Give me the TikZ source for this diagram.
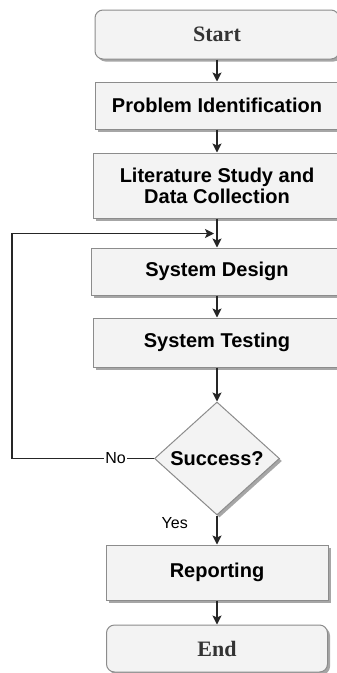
\documentclass[tikz,border=0pt]{standalone}
\usepackage{fontspec}
\setmainfont{Liberation Serif}
\setsansfont{Liberation Sans}
\usepackage{tikz}
\usetikzlibrary{shapes.geometric, arrows.meta, positioning, shadows}
\definecolor{boxline}{HTML}{8C8C8C}
\definecolor{boxfill}{HTML}{F3F3F3}
\definecolor{termtext}{HTML}{333333}

\tikzset{
	flowbox/.style={draw=boxline, fill=boxfill, line width=1pt,
		minimum height=47pt, align=center, inner sep=0pt,
		font=\sffamily\bfseries\fontsize{20}{21}\selectfont,
		drop shadow={shadow xshift=2.5pt, shadow yshift=-2.5pt, fill=black!35, opacity=1}},
	termbox/.style={flowbox, rounded corners=8pt, text=termtext,
		font=\rmfamily\bfseries\fontsize{22}{24}\selectfont},
	decide/.style={flowbox, diamond, aspect=1.1},
	flowarrow/.style={draw=black!85, line width=1.3pt,
		-{Stealth[length=9pt, width=9pt, inset=2pt]}},
	flowlabel/.style={font=\sffamily\fontsize{16}{18}\selectfont, inner sep=0pt}
}

\begin{document}
\begin{tikzpicture}
	\useasboundingbox (0,0) rectangle (337pt,-673pt);

	\node[termbox, minimum width=244pt, minimum height=49pt] (start) at (217pt,-34.5pt) {Start};
	\node[flowbox, minimum width=244pt, below=22pt of start] (ident) {Problem Identification};
	\node[flowbox, minimum width=248pt, minimum height=65pt, below=23pt of ident] (study)
		{Literature Study and\\Data Collection};
	\node[flowbox, minimum width=252pt, below=29pt of study] (design) {System Design};
	\node[flowbox, minimum width=248pt, minimum height=49pt, below=22pt of design] (testing) {System Testing};
	\node[decide, minimum width=125pt, minimum height=113pt, below=34pt of testing] (success) {Success?};
	\node[flowbox, minimum width=222pt, minimum height=55pt, below=29pt of success] (report) {Reporting};
	\node[termbox, minimum width=221pt, below=24pt of report] (finish) {End};

	\node[flowlabel, left=29pt of success.south, yshift=-8pt] (yes) {Yes};
	\coordinate[below=15pt of study.south] (loopin);

	\draw[flowarrow] (start) -- (ident);
	\draw[flowarrow] (ident) -- (study);
	\draw[flowarrow] (study) -- (design);
	\draw[flowarrow] (design) -- (testing);
	\draw[flowarrow] (testing) -- (success);
	\draw[flowarrow] (success) -- (report);
	\draw[flowarrow] (report) -- (finish);

	% back to the design step when the test fails
	\draw[flowarrow] (success.west)
		-- node[flowlabel, pos=0.27, fill=white, inner xsep=1pt] (no) {No} ++(-142pt,0)
		|- ([xshift=-3pt]loopin);
\end{tikzpicture}
\end{document}
